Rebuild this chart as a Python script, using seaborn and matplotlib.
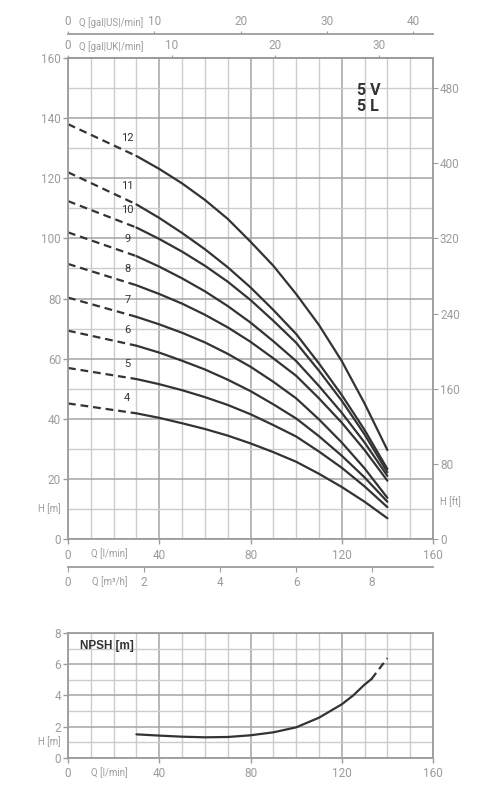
import numpy as np
import pandas as pd
import seaborn as sns
import matplotlib.pyplot as plt

# pump curves 5V / 5L, H [m] vs Q [l/min], one list per stage count
q_points = [0, 30, 40, 50, 60, 70, 80, 90, 100, 110, 120, 130, 140]
head_12 = [138.0, 127.4, 123.1, 118.3, 112.8, 106.5, 98.9, 90.9, 81.5, 71.2, 59.2, 45.1, 29.6]
head_11 = [122.0, 111.3, 106.8, 101.8, 96.4, 90.4, 83.7, 76.2, 68.2, 58.4, 47.9, 36.3, 23.3]
head_10 = [112.4, 103.6, 99.8, 95.6, 90.9, 85.6, 79.5, 72.6, 65.3, 56.0, 46.0, 34.8, 22.2]
head_9 = [102.0, 94.1, 90.6, 86.7, 82.4, 77.5, 72.0, 65.8, 59.2, 50.9, 42.0, 32.1, 21.0]
head_8 = [91.5, 84.4, 81.5, 78.3, 74.6, 70.4, 65.6, 60.1, 54.3, 46.8, 38.7, 29.6, 19.4]
head_7 = [80.3, 73.9, 71.4, 68.6, 65.4, 61.6, 57.3, 52.3, 46.8, 39.8, 32.1, 23.5, 13.7]
head_6 = [69.3, 64.3, 62.0, 59.3, 56.4, 53.0, 49.2, 44.8, 40.1, 34.2, 27.7, 20.5, 12.4]
head_5 = [56.9, 53.2, 51.5, 49.5, 47.2, 44.6, 41.5, 37.9, 34.1, 29.1, 23.7, 17.5, 10.6]
head_4 = [45.1, 41.8, 40.3, 38.5, 36.6, 34.4, 31.8, 28.9, 25.7, 21.7, 17.3, 12.4, 6.9]
stages = [12, 11, 10, 9, 8, 7, 6, 5, 4]
heads = [head_12, head_11, head_10, head_9, head_8, head_7, head_6, head_5, head_4]

# NPSH curve
npsh_q = [30, 40, 50, 60, 70, 80, 90, 100, 110, 120, 125, 130, 133]
npsh_h = [1.50, 1.42, 1.35, 1.31, 1.33, 1.44, 1.63, 1.95, 2.57, 3.43, 4.00, 4.70, 5.05]
npsh_q_dash = [133, 140]
npsh_h_dash = [5.05, 6.40]

main_xticks = [0, 40, 80, 120, 160]
main_yticks = [0, 20, 40, 60, 80, 100, 120, 140, 160]
ft_ticks = [0, 80, 160, 240, 320, 400, 480]
gal_us_ticks = [0, 10, 20, 30, 40]
gal_uk_ticks = [0, 10, 20, 30]
m3h_ticks = [0, 2, 4, 6, 8]
npsh_yticks = [0, 2, 4, 6, 8]

sns.set_style("white")
plt.rcParams['font.family'] = ['Roboto', 'DejaVu Sans']

GRAY = '#9c9c9c'
GRID_MAJ = '#a4a4a4'
GRID_MIN = '#cccccc'
DARK = '#333333'
TL, TP = 3.5, 1.5  # tick length, pad
FS = 8.5
UNIT_FS = 6.9

fig = plt.figure(figsize=(5, 8), dpi=100)
fig.patch.set_facecolor('white')


def style_grid(a, ymaj, ymin):
    a.set_xticks(main_xticks)
    a.set_xticks(np.arange(0, 161, 10), minor=True)
    a.set_yticks(ymaj)
    a.set_yticks(ymin, minor=True)
    a.grid(which='major', color=GRID_MAJ, lw=1.1)
    a.grid(which='minor', color=GRID_MIN, lw=1.0)
    a.set_axisbelow(True)
    for s in a.spines.values():
        s.set_color(GRAY)
        s.set_linewidth(1.3)
    a.tick_params(which='minor', length=0)
    a.tick_params(which='major', length=TL, pad=TP, color=GRAY, labelcolor=GRAY,
                  labelsize=FS, width=1)
    a.tick_params(axis='x', which='major', pad=TP + 2)


def unit_label(a, text, q, yfrac, below):
    off = -(TL + TP + 2) if below else (2.5 + TP)
    a.annotate(text, xy=(q, yfrac), xycoords=('data', 'axes fraction'),
               xytext=(0, off), textcoords='offset points', ha='left',
               va='top' if below else 'bottom', color=GRAY, fontsize=UNIT_FS)


# ---- main H-Q chart ----
ax = fig.add_axes([0.136, 0.32625, 0.73, 0.60125])
ax.set_xlim(0, 160)
ax.set_ylim(0, 160)
style_grid(ax, main_yticks, np.arange(0, 161, 10))
ax.tick_params(left=True, bottom=True)

for n, h in zip(stages, heads):
    sns.lineplot(x=q_points[:2], y=h[:2], ax=ax, color=DARK, lw=1.6,
                 linestyle=(0, (3.5, 2.2)))
    sns.lineplot(x=q_points[1:], y=h[1:], ax=ax, color=DARK, lw=1.6)
    ax.text(26, np.interp(26, q_points[:2], h[:2]) + 4.6, str(n), color=DARK,
            fontsize=8, ha='center', va='center')

ax.set_xlabel('')
ax.set_ylabel('')
ax.text(126.5, 146.5, '5 V\n5 L', fontsize=11.5, fontweight='bold',
        color=DARK, ha='left', va='center', linespacing=1.15)

ax.annotate('H [m]', xy=(0, 10), xycoords=('axes fraction', 'data'),
            xytext=(-(TL + TP), 0), textcoords='offset points', ha='right', va='center',
            color=GRAY, fontsize=UNIT_FS)
unit_label(ax, 'Q [l/min]', 10.1, 0, True)

# right axis in ft
ax2 = ax.twinx()
ax2.set_ylim(0, 160 * 3.2)
ax2.set_yticks(ft_ticks)
ax2.grid(False)
for s in ax2.spines.values():
    s.set_visible(False)
ax2.tick_params(length=TL, pad=TP, color=GRAY, labelcolor=GRAY, labelsize=FS, right=True)
ax2.annotate('H [ft]', xy=(1, 40), xycoords=('axes fraction', 'data'),
             xytext=(TL + TP, 0), textcoords='offset points', ha='left', va='center',
             color=GRAY, fontsize=UNIT_FS)


def extra_axis(loc, factor, ticks):
    sec = ax.secondary_xaxis(loc, functions=(lambda q: q / factor, lambda g: g * factor))
    sec.set_xticks(ticks)
    for s in sec.spines.values():
        s.set_color(GRAY)
        s.set_linewidth(1.3)
    top = loc > 0.5
    sec.tick_params(which='major', direction='out', length=2.5 if top else TL,
                    pad=TP if top else TP + 2, color=GRAY, labelcolor=GRAY, labelsize=FS)
    return sec


us_loc = 1 + 24 / 481
m3_loc = -27.7 / 481
extra_axis(1.0, 4.546, gal_uk_ticks)
extra_axis(us_loc, 3.785, gal_us_ticks)
extra_axis(m3_loc, 16.667, m3h_ticks)
unit_label(ax, 'Q [gal|UK|/min]', 4.8, 1.0, False)
unit_label(ax, 'Q [gal|US|/min]', 4.8, us_loc, False)
unit_label(ax, 'Q [m³/h]', 10.4, m3_loc, True)

# ---- NPSH chart ----
axn = fig.add_axes([0.136, 0.0529, 0.73, 0.1555])
axn.set_xlim(0, 160)
axn.set_ylim(0, 8)
style_grid(axn, npsh_yticks, np.arange(0, 9, 1))
axn.tick_params(left=True, bottom=True)
sns.lineplot(x=npsh_q, y=npsh_h, ax=axn, color=DARK, lw=1.6)
sns.lineplot(x=npsh_q_dash, y=npsh_h_dash, ax=axn, color=DARK, lw=1.6,
             linestyle=(0, (3.5, 2.2)))
axn.set_xlabel('')
axn.set_ylabel('')
axn.text(5.3, 7.18, 'NPSH [m]', fontsize=8.5, fontweight='bold',
         family=['Liberation Sans', 'DejaVu Sans'], color=DARK, ha='left', va='center')
axn.annotate('H [m]', xy=(0, 1), xycoords=('axes fraction', 'data'),
             xytext=(-(TL + TP), 0), textcoords='offset points', ha='right', va='center',
             color=GRAY, fontsize=UNIT_FS)
unit_label(axn, 'Q [l/min]', 10.1, 0, True)

fig.savefig('out.png', dpi=100, facecolor='white')
